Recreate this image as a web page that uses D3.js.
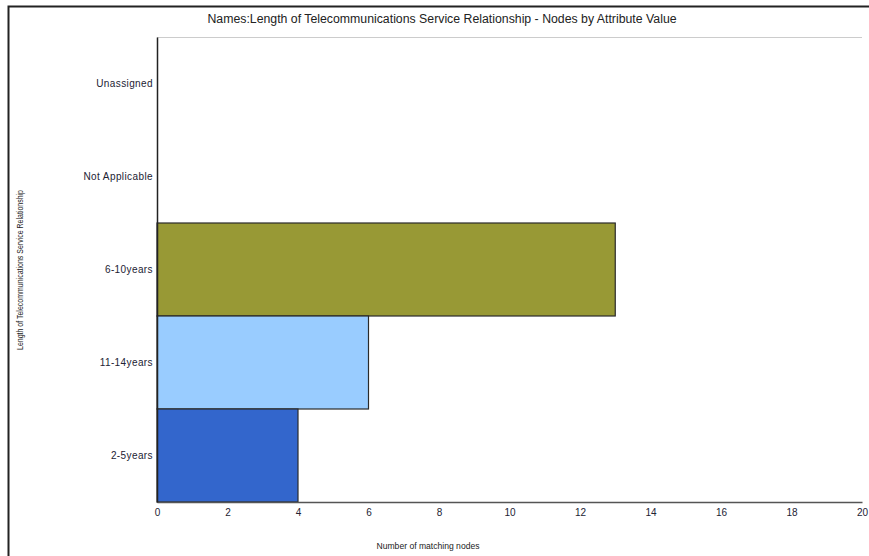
<!DOCTYPE html>
<html>
<head>
<meta charset="utf-8">
<script src="https://cdn.jsdelivr.net/npm/d3@7"></script>
<style>
  body { margin: 0; background: #fff; }
  text { font-family: "Liberation Sans", Arial, sans-serif; }
</style>
</head>
<body>
<div id="chart"></div>
<script>
// categories, top to bottom
const categories = ["Unassigned", "Not Applicable", "6-10years", "11-14years", "2-5years"];
const counts = [0, 0, 13, 6, 4];
const barColors = ["#ffffff", "#ffffff", "#989935", "#99ccff", "#3366cc"];
const xTicks = [0, 2, 4, 6, 8, 10, 12, 14, 16, 18, 20];

const W = 869, H = 556;
const margin = {top: 37, right: 7, bottom: 54, left: 157};
const width = W - margin.left - margin.right;
const height = H - margin.top - margin.bottom;

const svg = d3.select("#chart").append("svg")
    .attr("width", W)
    .attr("height", H);

// outer frame
svg.append("path")
    .attr("d", "M8.5," + H + " V6.5 H" + W)
    .attr("fill", "none")
    .attr("stroke", "#222")
    .attr("stroke-width", 2);

svg.append("text")
    .attr("x", 442)
    .attr("y", 23)
    .attr("text-anchor", "middle")
    .attr("font-size", 12.3)
    .attr("fill", "#222")
    .text("Names:Length of Telecommunications Service Relationship - Nodes by Attribute Value");

const g = svg.append("g")
    .attr("transform", "translate(" + margin.left + "," + margin.top + ")");

const x = d3.scaleLinear().domain([0, 20]).range([0, width]);
const y = d3.scaleBand().domain(categories).range([0, height]).padding(0);

// top grey line
g.append("line")
    .attr("x1", 0).attr("x2", width)
    .attr("y1", 0.5).attr("y2", 0.5)
    .attr("stroke", "#ccc");

// bars
g.selectAll(".bar")
    .data(categories.filter((c, i) => counts[i] > 0))
    .enter()
    .append("rect")
    .attr("class", "bar")
    .attr("x", 0)
    .attr("y", d => y(d))
    .attr("width", d => x(counts[categories.indexOf(d)]))
    .attr("height", y.bandwidth())
    .attr("fill", d => barColors[categories.indexOf(d)])
    .attr("stroke", "#2a2a2a")
    .attr("stroke-width", 1.2);

// x axis
const xAxis = g.append("g")
    .attr("transform", "translate(0," + height + ")")
    .call(d3.axisBottom(x).tickValues(xTicks).tickSize(0).tickPadding(7));
xAxis.select(".domain").attr("stroke", "#555").attr("stroke-width", 1.5);
xAxis.selectAll("text")
    .attr("font-size", 10)
    .attr("fill", "#223")
    .attr("font-family", "Liberation Sans, Arial, sans-serif");

// y axis
const yAxis = g.append("g")
    .call(d3.axisLeft(y).tickSize(0).tickPadding(4));
yAxis.select(".domain").attr("stroke", "#222").attr("stroke-width", 1.5);
yAxis.selectAll("text")
    .attr("font-size", 10)
    .attr("letter-spacing", 0.4)
    .attr("fill", "#223")
    .attr("font-family", "Liberation Sans, Arial, sans-serif");

// axis titles
svg.append("text")
    .attr("x", 428)
    .attr("y", 549)
    .attr("text-anchor", "middle")
    .attr("font-size", 9.5)
    .attr("textLength", 103)
    .attr("lengthAdjust", "spacingAndGlyphs")
    .attr("fill", "#222")
    .text("Number of matching nodes");

svg.append("text")
    .attr("transform", "translate(23," + 270 + ") rotate(-90)")
    .attr("text-anchor", "middle")
    .attr("font-size", 9.5)
    .attr("textLength", 160)
    .attr("lengthAdjust", "spacingAndGlyphs")
    .attr("fill", "#222")
    .text("Length of Telecommunications Service Relationship");
</script>
</body>
</html>
